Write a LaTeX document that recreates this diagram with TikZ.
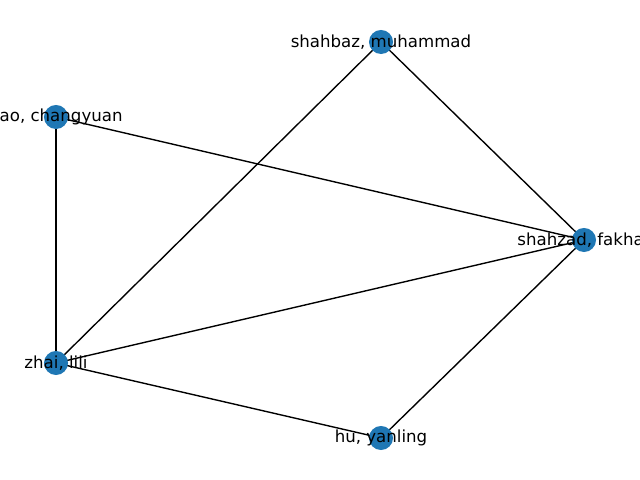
\documentclass[tikz,border=0pt]{standalone}
\usepackage{fontspec}
\setmainfont{DejaVu Sans}
\definecolor{nxblue}{HTML}{1F77B4}
\begin{document}
\begin{tikzpicture}[x=0.01in,y=-0.01in,
  vtx/.style={circle,fill=nxblue,draw=none,minimum size=0.24in,inner sep=0pt},
  lbl/.style={font=\fontsize{12}{14}\selectfont,inner sep=0pt,text=black},
  edge/.style={draw=black,line width=1pt}]
\clip (0,0) rectangle (640,480);
\useasboundingbox (0,0) rectangle (640,480);
\coordinate (sm) at (381,42);
\coordinate (zc) at (56,117);
\coordinate (sf) at (584,240);
\coordinate (zl) at (56,363);
\coordinate (hy) at (381,438);
\draw[edge] (sm) -- (sf);
\draw[edge] (sm) -- (zl);
\draw[edge] (zc) -- (sf);
\draw[edge] (zc) -- (zl);
\draw[edge] (zl) -- (sf);
\draw[edge] (zl) -- (hy);
\draw[edge] (hy) -- (sf);
\node[vtx] (nsm) at (sm) {};
\node[vtx] (nzc) at (zc) {};
\node[vtx] (nsf) at (sf) {};
\node[vtx] (nzl) at (zl) {};
\node[vtx] (nhy) at (hy) {};
\node[lbl] (tsm) at (sm) {shahbaz, muhammad};
\node[lbl,xshift=-0.045in] (tzc) at (zc) {\phantom{zh}ao, changyuan};
\node[lbl] (tsf) at (sf) {shahzad, fakha\phantom{r}};
\node[lbl] (tzl) at (zl) {zhai, lili};
\node[lbl] (thy) at (hy) {hu, yanling};
\end{tikzpicture}
\end{document}
